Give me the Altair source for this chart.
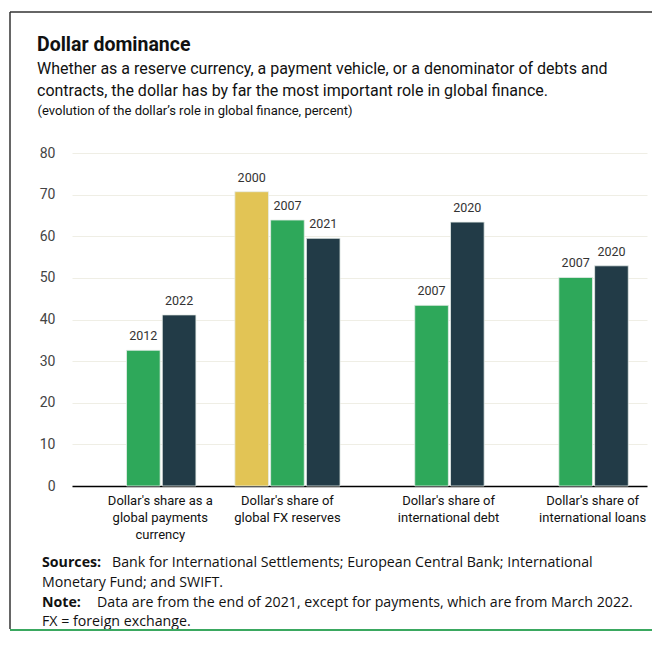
import altair as alt
import pandas as pd

# ---- data ----
categories = [
    "Dollar's share as a|global payments|currency",
    "Dollar's share of|global FX reserves",
    "Dollar's share of|international debt",
    "Dollar's share of|international loans",
]
cat_idx = [0, 0, 1, 1, 1, 2, 2, 3, 3]
years = ["2012", "2022", "2000", "2007", "2021", "2007", "2020", "2007", "2020"]
values = [32.6, 41.1, 70.7, 63.9, 59.5, 43.4, 63.4, 50.1, 52.9]
slots = ["mid", "last", "first", "mid", "last", "mid", "last", "mid", "last"]
slot_order = ["first", "mid", "last"]
slot_colors = ["#E2C455", "#2EA85A", "#223B47"]
y_ticks = [0, 10, 20, 30, 40, 50, 60, 70, 80]

title_text = "Dollar dominance"
subtitle_lines = [
    "Whether as a reserve currency, a payment vehicle, or a denominator of debts and",
    "contracts, the dollar has by far the most important role in global finance.",
]
unit_line = "(evolution of the dollar\u2019s role in global finance, percent)"
sources_head = "Sources:"
sources_lines = [
    "Bank for International Settlements; European Central Bank; International",
    "Monetary Fund; and SWIFT.",
]
note_head = "Note:"
note_lines = [
    "Data are from the end of 2021, except for payments, which are from March 2022.",
    "FX = foreign exchange.",
]

COND = "Roboto, sans-serif"
REG = "Open Sans, sans-serif"

df = pd.DataFrame({
    "category": [categories[i] for i in cat_idx],
    "year": years,
    "value": values,
    "slot": slots,
})

W, H = 575, 333
PAD = {"left": 64, "top": 145, "right": 5, "bottom": 146}

x_enc = alt.X(
    "category:N",
    sort=categories,
    scale=alt.Scale(paddingInner=0.27, paddingOuter=0.13),
    axis=alt.Axis(
        title=None,
        labelAngle=0,
        labelExpr="split(datum.label, '|')",
        labelFont=COND,
        labelFontSize=13,
        labelColor="#111111",
        labelLineHeight=17,
        labelPadding=8,
        labelBaseline="top",
        labelLimit=300,
        labelOffset={"condition": {"test": "indexof(datum.value, 'FX') >= 0", "value": 0}, "value": 17},
        ticks=False,
        domain=True,
        domainColor="#000000",
        domainWidth=1.5,
        grid=False,
    ),
)
xo_enc = alt.XOffset("slot:N", sort=slot_order, scale=alt.Scale(domain=slot_order, paddingInner=0.06))
y_enc = alt.Y(
    "value:Q",
    scale=alt.Scale(domain=[0, 80], nice=False),
    axis=alt.Axis(
        values=y_ticks,
        title=unit_line,
        titleAngle=0,
        titleAlign="left",
        titleBaseline="alphabetic",
        titleX=-35,
        titleY=-39,
        titleFont=COND,
        titleFontSize=13,
        titleFontWeight="normal",
        titleColor="#111111",
        domain=False,
        ticks=False,
        labelPadding=17,
        labelFont=COND,
        labelFontSize=14,
        labelColor="#444444",
        gridColor="#EFEEE5",
        gridWidth=1,
    ),
)

base = alt.Chart(df)
bars = base.mark_bar(stroke="#E6ECE8", strokeWidth=0.8).encode(
    x=x_enc,
    xOffset=xo_enc,
    y=y_enc,
    color=alt.Color("slot:N", scale=alt.Scale(domain=slot_order, range=slot_colors), legend=None),
)
bar_labels = base.mark_text(baseline="bottom", dy=-7, font=COND, fontSize=12.5, color="#333333").encode(
    x=alt.X("category:N", sort=categories),
    xOffset=alt.XOffset("slot:N", sort=slot_order),
    y="value:Q",
    text="year:N",
)


def txt(text, x, y, font=REG, size=14.2, bold=False):
    return alt.Chart(pd.DataFrame({"t": [text]})).mark_text(
        align="left", baseline="alphabetic", font=font, fontSize=size,
        fontWeight="bold" if bold else "normal", color="#111111",
    ).encode(text="t:N", x=alt.value(x), y=alt.value(y))


header = [
    txt(title_text, -35, -102, COND, 19.5, True),
    txt(subtitle_lines[0], -35, -79, COND, 16),
    txt(subtitle_lines[1], -35, -57.5, COND, 16),
]

footer = [
    txt(sources_head, -30, 413.5, REG, 14.2, True),
    txt(sources_lines[0], 40, 413.5),
    txt(sources_lines[1], -30, 433.5),
    txt(note_head, -30, 453.5, REG, 14.2, True),
    txt(note_lines[0], 25, 453.5),
    txt(note_lines[1], -30, 472.5),
]

one = pd.DataFrame({"k": [0]})
right_edge = W + PAD["right"]
bottom_edge = H + PAD["bottom"]
frame_top = alt.Chart(one).mark_rule(color="#333333", strokeWidth=1.5).encode(
    x=alt.value(-62), x2=alt.value(right_edge), y=alt.value(-141))
frame_left = alt.Chart(one).mark_rule(color="#333333", strokeWidth=1.5).encode(
    x=alt.value(-62), y=alt.value(-141), y2=alt.value(bottom_edge - 3))
frame_bottom = alt.Chart(one).mark_rule(color="#3AA860", strokeWidth=2).encode(
    x=alt.value(-62), x2=alt.value(right_edge), y=alt.value(bottom_edge - 2))

chart = alt.layer(bars, bar_labels, *header, *footer, frame_top, frame_left, frame_bottom).properties(
    width=W,
    height=H,
    autosize=alt.AutoSizeParams(type="none"),
    padding=PAD,
).configure_view(stroke=None)

chart.save("out.html", embed_options={"renderer": "svg", "actions": False})
